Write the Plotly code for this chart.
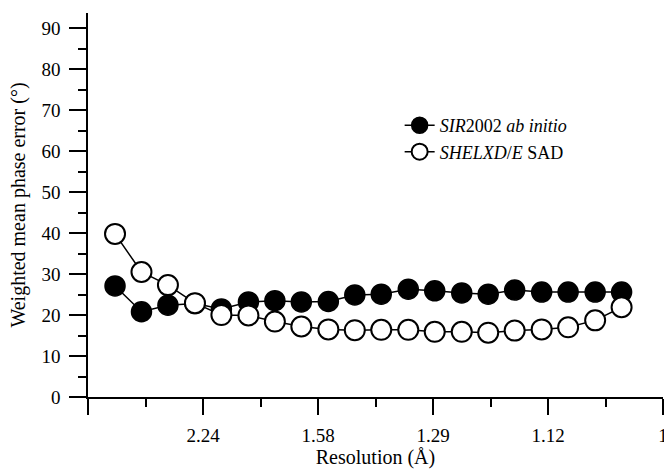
import plotly.graph_objects as go

# x positions in 1/d^2 (Å^-2)
inv_d2 = [0.047, 0.093, 0.139, 0.186, 0.232, 0.279, 0.325, 0.371, 0.418, 0.464,
          0.510, 0.557, 0.603, 0.650, 0.696, 0.742, 0.789, 0.835, 0.882, 0.928]
sir2002 = [27.1, 20.8, 22.4, 22.8, 21.5, 23.2, 23.5, 23.2, 23.3, 24.9,
           25.1, 26.3, 25.9, 25.4, 25.1, 26.1, 25.6, 25.6, 25.6, 25.6]
shelx = [39.8, 30.5, 27.3, 22.9, 20.0, 19.9, 18.4, 17.2, 16.5, 16.3,
         16.4, 16.4, 15.9, 15.9, 15.7, 16.2, 16.5, 17.0, 18.7, 21.9]

tick_pos = [0.0, 0.2, 0.4, 0.6, 0.8, 1.0]
tick_text = ["", "2.24", "1.58", "1.29", "1.12", "1"]

FONT = "Liberation Serif"

fig = go.Figure()
fig.add_trace(go.Scatter(
    x=inv_d2, y=sir2002, mode="lines+markers",
    name="<i>SIR</i>2002 <i>ab initio</i>",
    line=dict(color="black", width=1.5),
    marker=dict(size=20, color="black", line=dict(color="black", width=1.5)),
))
fig.add_trace(go.Scatter(
    x=inv_d2, y=shelx, mode="lines+markers",
    name="<i>SHELXD</i>/<i>E</i> SAD",
    line=dict(color="black", width=1.5),
    marker=dict(size=20, color="white", line=dict(color="black", width=2)),
))

fig.update_layout(
    template="none",
    width=664, height=469,
    margin=dict(l=88, r=1, t=13, b=72, autoexpand=False),
    paper_bgcolor="white", plot_bgcolor="white",
    font=dict(family=FONT, size=19, color="black"),
    legend=dict(
        x=0.542, y=0.755, xanchor="left", yanchor="top",
        font=dict(family=FONT, size=18, color="black"),
        bgcolor="rgba(0,0,0,0)", itemsizing="trace",
    ),
    showlegend=True,
)
fig.update_xaxes(
    range=[0, 1.0], tickmode="array", tickvals=tick_pos, ticktext=tick_text,
    automargin=False,
    showline=True, linecolor="black", linewidth=1.5, mirror=False,
    ticks="outside", ticklen=16, tickwidth=1.5, tickcolor="black",
    minor=dict(tickmode="linear", tick0=0, dtick=0.1, ticks="outside",
               ticklen=8, tickwidth=1.5, tickcolor="black", showgrid=False),
    showgrid=False, zeroline=False,
    title=dict(text="Resolution (Å)", font=dict(family=FONT, size=20, color="black"), standoff=9),
    tickfont=dict(family=FONT, size=19, color="black"), ticklabelstandoff=4,
    ticklabeloverflow="allow",
)
fig.update_yaxes(
    range=[0, 93.7], tickmode="linear", tick0=0, dtick=10,
    automargin=False,
    showline=True, linecolor="black", linewidth=1.5,
    ticks="outside", ticklen=17, tickwidth=1.5, tickcolor="black",
    minor=dict(tickmode="linear", tick0=0, dtick=5, ticks="outside",
               ticklen=8, tickwidth=1.5, tickcolor="black", showgrid=False),
    showgrid=False, zeroline=False,
    title=dict(text="Weighted mean phase error (°)", font=dict(family=FONT, size=20, color="black"), standoff=10),
    tickfont=dict(family=FONT, size=19, color="black"), ticklabelstandoff=5,
)

fig.write_html("out.html")
